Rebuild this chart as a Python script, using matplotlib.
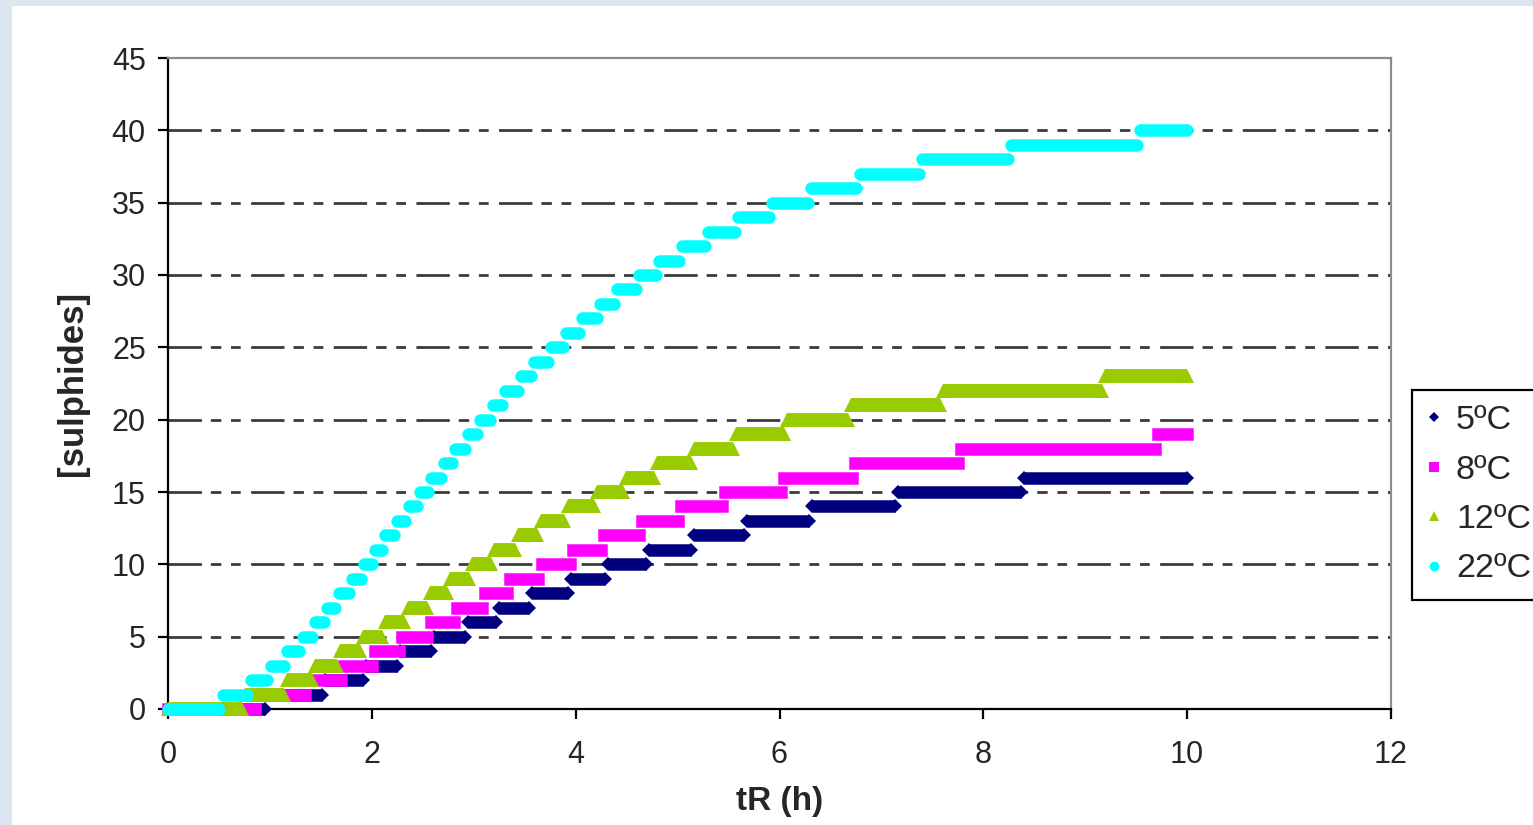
import matplotlib
matplotlib.use("Agg")
import matplotlib.pyplot as plt
from matplotlib.lines import Line2D
from matplotlib.patches import Rectangle

plt.rcParams['font.family'] = ['Liberation Sans', 'DejaVu Sans']
plt.rcParams['lines.scale_dashes'] = False

# Step data: time (h) at which each level begins, and the level
t_5C = [0.0, 0.98, 1.54, 1.94, 2.28, 2.61, 2.94, 3.245, 3.57, 3.95, 4.32, 4.72,
        5.16, 5.68, 6.32, 7.16, 8.40]
y_5C = [0, 1, 2, 3, 4, 5, 6, 7, 8, 9, 10, 11, 12, 13, 14, 15, 16]

t_8C = [0.0, 0.88, 1.37, 1.73, 2.03, 2.30, 2.576, 2.84, 3.115, 3.355, 3.665, 3.97,
        4.275, 4.65, 5.03, 5.47, 6.04, 6.745, 7.785, 9.71]
y_8C = [0, 1, 2, 3, 4, 5, 6, 7, 8, 9, 10, 11, 12, 13, 14, 15, 16, 17, 18, 19]

t_12C = [0.0, 0.76, 1.17, 1.447, 1.69, 1.918, 2.13, 2.35, 2.575, 2.77, 2.985, 3.195,
         3.43, 3.655, 3.92, 4.21, 4.49, 4.80, 5.16, 5.57, 6.075, 6.70, 7.60, 9.19]
y_12C = [0, 1, 2, 3, 4, 5, 6, 7, 8, 9, 10, 11, 12, 13, 14, 15, 16, 17, 18, 19, 20,
         21, 22, 23]

t_22C = [0.0, 0.535, 0.81, 1.006, 1.17, 1.32, 1.447, 1.565, 1.673, 1.81, 1.92, 2.03,
         2.13, 2.25, 2.36, 2.47, 2.585, 2.71, 2.82, 2.945, 3.06, 3.19, 3.31, 3.46,
         3.59, 3.76, 3.91, 4.06, 4.24, 4.41, 4.62, 4.82, 5.045, 5.30, 5.595, 5.93,
         6.305, 6.785, 7.40, 8.276, 9.54]
y_22C = [0, 1, 2, 3, 4, 5, 6, 7, 8, 9, 10, 11, 12, 13, 14, 15, 16, 17, 18, 19, 20,
         21, 22, 23, 24, 25, 26, 27, 28, 29, 30, 31, 32, 33, 34, 35, 36, 37, 38, 39, 40]

t_last = 10.0
labels = ['5ºC', '8ºC', '12ºC', '22ºC']

W, H = 1533, 825
fig = plt.figure(figsize=(W / 100, H / 100), dpi=100)
fig.patch.set_facecolor('#dce6f1')
fig.add_artist(Rectangle((12 / W, 0), 1 - 12 / W, 1 - 6 / H, transform=fig.transFigure,
                         facecolor='white', edgecolor='none', zorder=0))

ax = fig.add_axes([168 / W, 1 - 709 / H, (1391 - 168) / W, (709 - 58) / H])
ax.set_xlim(0, 12)
ax.set_ylim(0, 45)
ax.set_xticks(range(0, 13, 2))
ax.set_yticks(range(0, 46, 5))

# horizontal dash-dot-dot gridlines
for yv in range(5, 45, 5):
    ax.axhline(yv, color='#3a3a3a', lw=2.0, zorder=1,
               linestyle=(0, (24, 6.5, 7.5, 7, 7, 7.5)))

gap = 0.03


def draw_steps(ts, ys, color, lw, cap, marker=None, ms=0):
    ends = [t - gap for t in ts[1:]] + [t_last]
    for s, e, v in zip(ts, ends, ys):
        ax.plot([s, e], [v, v], color=color, lw=lw, solid_capstyle=cap,
                clip_on=False, zorder=5)
        if marker:
            ax.plot([s, e], [v, v], color=color, lw=0, marker=marker, ms=ms,
                    mew=0, clip_on=False, zorder=5)


draw_steps(t_5C, y_5C, '#000080', 9.0, 'butt', 'D', 7.4)
draw_steps(t_8C, y_8C, '#ff00ff', 9.0, 'projecting')
draw_steps(t_12C, y_12C, '#99cc00', 10.0, 'butt', '^', 10.0)
draw_steps(t_22C, y_22C, '#00ffff', 9.0, 'round')

for side in ['left', 'bottom']:
    ax.spines[side].set_color('black')
    ax.spines[side].set_linewidth(1.6)
for side in ['top', 'right']:
    ax.spines[side].set_color('#8c8c8c')
    ax.spines[side].set_linewidth(1.6)

ax.tick_params(axis='both', direction='out', length=7, width=1.6, color='black',
               labelsize=22, labelcolor='#262626')
ax.tick_params(axis='y', pad=9)
ax.tick_params(axis='x', pad=15)

ax.set_xlabel('tR (h)', fontsize=24, fontweight='bold', color='#262626', labelpad=12)
ax.set_ylabel('[sulphides]', fontsize=25, fontweight='bold', color='#262626', labelpad=16)

handles = [
    Line2D([], [], color='#000080', marker='D', ms=5.2, ls='none', mew=0),
    Line2D([], [], color='#ff00ff', marker='s', ms=7.5, ls='none', mew=0),
    Line2D([], [], color='#99cc00', marker='^', ms=7.5, ls='none', mew=0),
    Line2D([], [], color='#00ffff', marker='o', ms=7, ls='none', mew=0),
]
leg = fig.legend(handles, labels, loc='upper left', bbox_to_anchor=(1412 / W, 1 - 390 / H),
                 bbox_transform=fig.transFigure, fontsize=24.5, frameon=True, fancybox=False,
                 borderaxespad=0, borderpad=0.45, handlelength=0.4, handletextpad=0.44,
                 labelspacing=0.54, framealpha=1)
leg.get_frame().set_edgecolor('black')
leg.get_frame().set_linewidth(1.6)
for txt in leg.get_texts():
    txt.set_color('#262626')

fig.savefig('out.png', dpi=100)
